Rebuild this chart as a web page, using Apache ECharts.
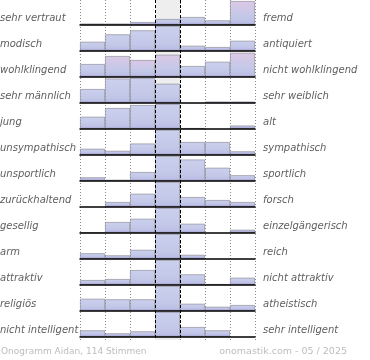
<!DOCTYPE html>
<html><head><meta charset="utf-8">
<script src="https://cdn.jsdelivr.net/npm/echarts@6/dist/echarts.min.js"></script>
<style>html,body{margin:0;padding:0;background:#fff}#c{width:370px;height:360px}</style>
</head><body><div id="c"></div>
<script>
const columns = ['1','2','3','4','5','6','7'];
const leftLabels = ['sehr vertraut','modisch','wohlklingend','sehr männlich','jung','unsympathisch','unsportlich','zurückhaltend','gesellig','arm','attraktiv','religiös','nicht intelligent'];
const rightLabels = ['fremd','antiquiert','nicht wohlklingend','sehr weiblich','alt','sympathisch','sportlich','forsch','einzelgängerisch','reich','nicht attraktiv','atheistisch','sehr intelligent'];
const row1 = [1.5, 1.5, 3, 6, 8, 4.7, 24];
const row2 = [9.3, 16.7, 20.7, 25, 5.3, 4, 10.3];
const row3 = [13, 21, 17, 22.3, 11, 15.3, 24.3];
const row4 = [14, 24.5, 25, 19.3, 0, 1.5, 1.5];
const row5 = [12.3, 21, 24, 25, 1, 0, 3.5];
const row6 = [6.3, 4.2, 11.5, 25, 13, 13, 3.7];
const row7 = [3.7, 1.3, 9, 25, 21.5, 13.3, 5.8];
const row8 = [0, 5, 13.3, 25, 10, 7, 5];
const row9 = [0.5, 11, 14.3, 25, 9.3, 0, 3.3];
const row10 = [5.8, 3.7, 9.2, 25, 4.2, 0, 0];
const row11 = [5, 6, 15, 25, 10.7, 1, 7.3];
const row12 = [12.3, 11.7, 11.7, 25, 7.3, 4.3, 6];
const row13 = [6.7, 3.7, 5.7, 25, 10, 6.7, 0];
const rows = [row1,row2,row3,row4,row5,row6,row7,row8,row9,row10,row11,row12,row13];
const maxValue = 25;
const footerLeft = 'Onogramm Aidan, 114 Stimmen';
const footerRight = 'onomastik.com - 05 / 2025';
const pinkBars = [[0,6],[2,1],[2,2],[2,3],[2,6]];

const ROW_H = 26, FIRST_BASE = 25, BAR_H = 25, LEFT = 80, WIDTH = 175;
const grids = [], xAxes = [], yAxes = [], series = [], graphics = [];
function isPink(r,c){ return pinkBars.some(p => p[0]===r && p[1]===c); }
rows.forEach((vals, r) => {
  const base = FIRST_BASE + ROW_H * r;
  grids.push({left: LEFT, width: WIDTH, top: base - BAR_H, height: BAR_H});
  xAxes.push({type:'category', gridIndex:r, data:columns, z:4,
    axisLine:{show:true, lineStyle:{color:'#000', width:1.5}}, axisTick:{show:false}, axisLabel:{show:false}, splitLine:{show:false}});
  yAxes.push({type:'value', gridIndex:r, min:0, max:maxValue, show:false});
  series.push({type:'bar', xAxisIndex:r, yAxisIndex:r, barWidth:'100%', z:2, silent:true,
    data: vals.map((v,c) => {
      const f = v > 0 ? Math.min(0.9, 2 / v) : 0.5;
      const top = isPink(r,c) ? '#dcc8e6' : '#cbd0ee';
      return {value: v, itemStyle:{
        color: new echarts.graphic.LinearGradient(0,0,0,1,[
          {offset:0, color: top},
          {offset:Math.max(0.01, 1 - f - 0.25), color:'#c3c8e8'},
          {offset:1 - f, color:'#bcbfe4'},
          {offset:1, color:'#9484c4'}]),
        borderColor:'rgba(130,130,140,0.75)', borderWidth: v > 0 ? 0.8 : 0}};
    })});
  graphics.push({type:'text', left: 0, top: base - 12, style:{text: leftLabels[r], font:'italic 10px "DejaVu Sans"', fill:'#5e5e5e'}});
  graphics.push({type:'text', left: 263, top: base - 12, style:{text: rightLabels[r], font:'italic 10px "DejaVu Sans"', fill:'#5e5e5e'}});
});
// background grid with dotted column dividers and grey middle column
const bg = rows.length;
grids.push({left: LEFT, width: WIDTH, top: 0, height: 340});
xAxes.push({type:'category', gridIndex:bg, data:columns, boundaryGap:true, z:0,
  axisLine:{show:false}, axisTick:{show:false}, axisLabel:{show:false},
  splitLine:{show:true, interval:0, lineStyle:{color:'#8a8a8a', width:1, type:[1,2]}}});
yAxes.push({type:'value', gridIndex:bg, min:0, max:1, show:false});
series.push({type:'bar', xAxisIndex:bg, yAxisIndex:bg, barWidth:'100%', z:0, silent:true,
  data: columns.map((c,i) => i === 3 ? 1 : null), itemStyle:{color:'#eeeeee'}});
// dashed overlay for the middle column
const ov = rows.length + 1;
grids.push({left: LEFT + WIDTH * 3 / 7, width: WIDTH / 7, top: 0, height: 340});
xAxes.push({type:'value', gridIndex:ov, min:0, max:1, interval:1, z:6,
  axisLine:{show:false}, axisTick:{show:false}, axisLabel:{show:false},
  splitLine:{show:true, lineStyle:{color:'#000', width:1, type:[3,2]}}});
yAxes.push({type:'value', gridIndex:ov, min:0, max:1, show:false});

graphics.push({type:'text', left: 1, top: 347, style:{text: footerLeft, font:'9px "DejaVu Sans"', fill:'#bdbdbd'}});
graphics.push({type:'text', right: 23, top: 347, style:{text: footerRight, font:'9.5px "DejaVu Sans"', fill:'#bdbdbd'}});

const chart = echarts.init(document.getElementById('c'), null, {renderer:'canvas'});
chart.setOption({animation:false, grid:grids, xAxis:xAxes, yAxis:yAxes, series:series, graphic:graphics});
</script></body></html>
